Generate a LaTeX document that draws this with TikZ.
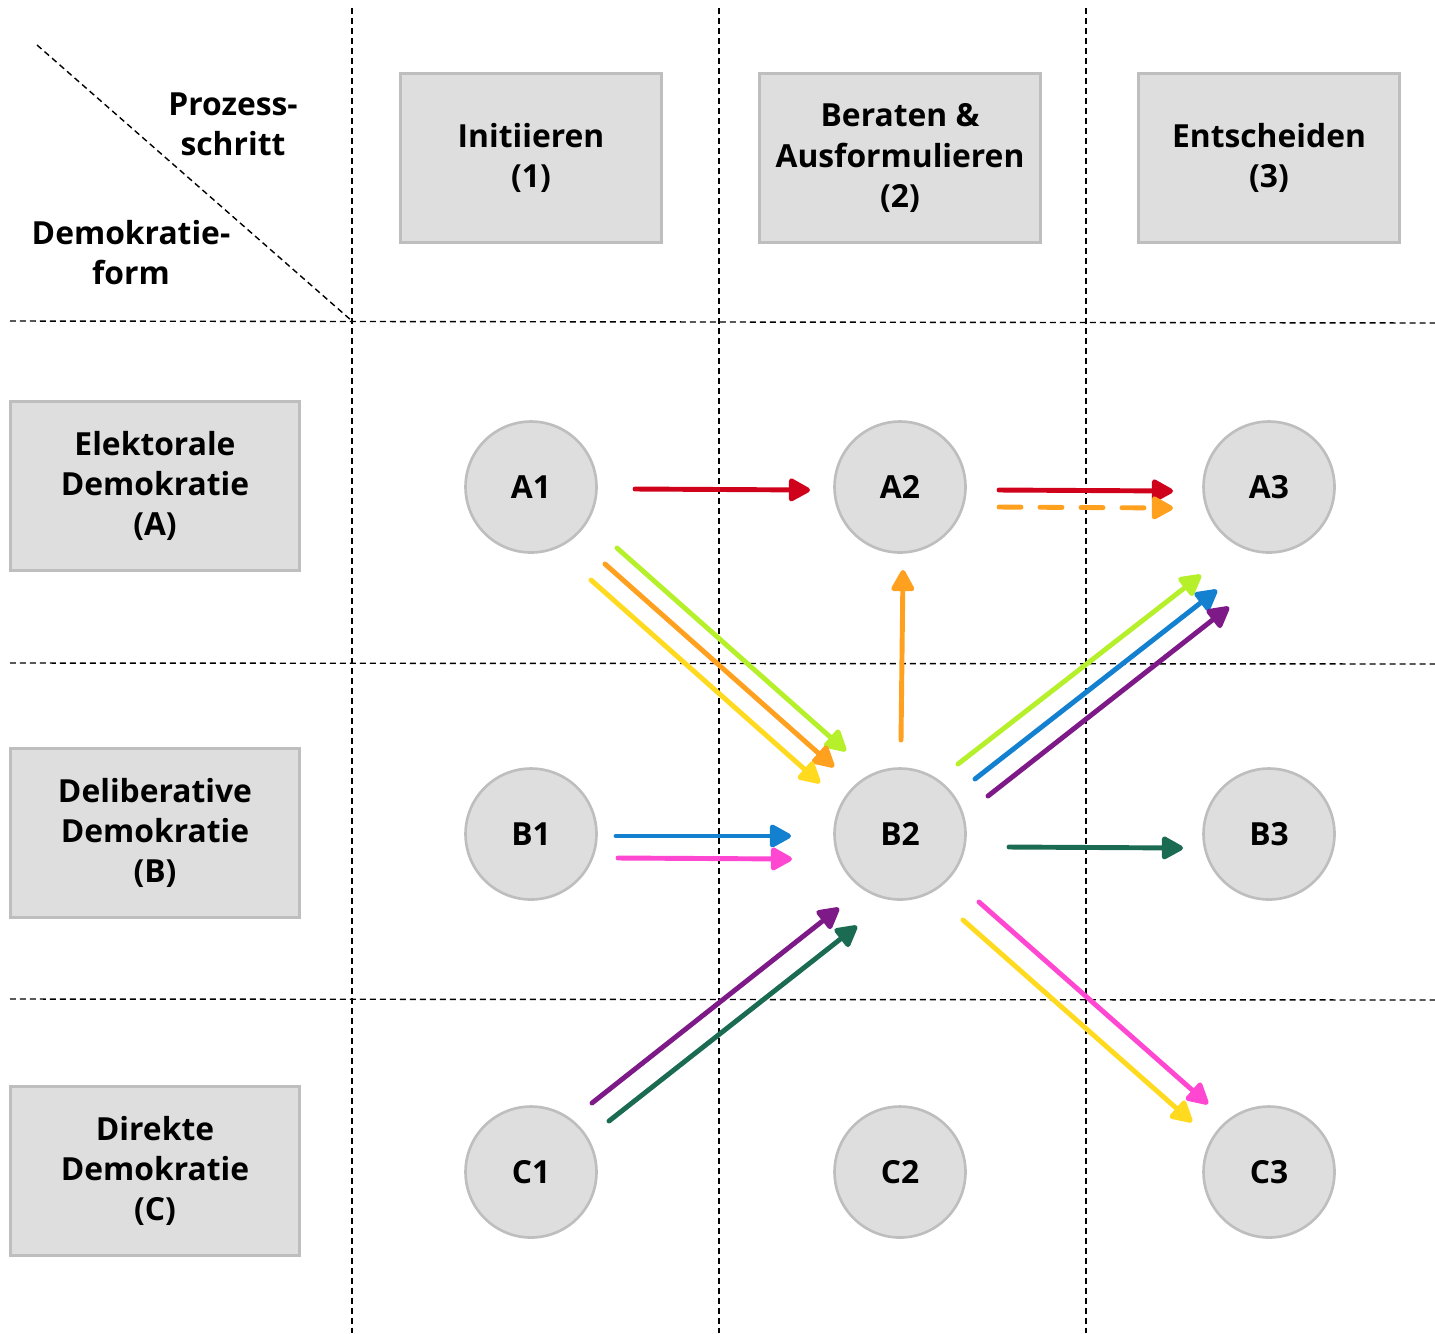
\documentclass[tikz,border=0pt]{standalone}
\usepackage{fontspec}
\setmainfont{Open Sans}
\usepackage{xcolor}
\usepackage{tikz}
\usetikzlibrary{arrows.meta, calc, positioning}
\definecolor{boxgray}{HTML}{DEDEDE}
\definecolor{randgray}{HTML}{BEBEBE}
\definecolor{rot}{HTML}{D0021B}
\definecolor{orange}{HTML}{FFA01F}
\definecolor{limette}{HTML}{B5F02B}
\definecolor{gelb}{HTML}{FFDA1F}
\definecolor{blau}{HTML}{1380D0}
\definecolor{lila}{HTML}{7E1A88}
\definecolor{pink}{HTML}{FF47D2}
\definecolor{dunkelgruen}{HTML}{1B6B52}

\begin{document}
\begin{tikzpicture}[x=0.02cm, y=-0.02cm,
  every node/.style={font=\bfseries\fontsize{18.1}{22.8}\selectfont, align=center},
  kasten/.style={draw=randgray, line width=1.7pt, fill=boxgray, minimum height=3.38cm},
  kreis/.style={circle, draw=randgray, line width=1.5pt, fill=boxgray, minimum size=2.62cm, inner sep=0pt},
  raster/.style={dash pattern=on 0.12cm off 0.08cm, line width=0.8pt},
  pfeil/.style={line width=2.8pt, line cap=round, -{Triangle[length=0.48cm, width=0.5cm, round]}}]
\useasboundingbox (0,0) rectangle (1435,1333);

%% Raster
\draw[raster] (352,8) -- (352,1333);
\draw[raster] (719,8) -- (719,1333);
\draw[raster] (1086,8) -- (1086,1333);
\draw[raster] (10,321) -- (1435,323);
\draw[raster] (10,663) -- (1435,664);
\draw[raster] (10,999) -- (1435,1000);
\draw[raster] (37,45) -- (352,321);

\node (prozess) at (233,124) {Prozess-\\schritt};
\node (demform) at (131,253) {Demokratie-\\form};

%% Spaltenkoepfe
\node[kasten, minimum width=5.22cm] (init) at (531,158) {Initiieren\\(1)};
\node[kasten, minimum width=5.62cm] (beraten) at (900,158) {Beraten \&\\Ausformulieren\\(2)};
\node[kasten, minimum width=5.22cm] (entsch) at (1269,158) {Entscheiden\\(3)};

%% Zeilenkoepfe
\node[kasten, minimum width=5.78cm] (elekt) at (155,486) {Elektorale\\Demokratie\\(A)};
\node[kasten, minimum width=5.78cm] (delib) at (155,833) {Deliberative\\Demokratie\\(B)};
\node[kasten, minimum width=5.78cm] (direkt) at (155,1171) {Direkte\\Demokratie\\(C)};

%% Kreise
\foreach \zeile/\y in {A/487, B/834, C/1172} {
  \foreach \spalte/\x in {1/531, 2/900, 3/1269} {
    \node[kreis] (\zeile\spalte) at (\x,\y) {\zeile\spalte};
  }
}

%% Pfeile
\draw[pfeil, rot] ($(A1)+(104,2)$) -- ($(A2)+(-90,3)$);
\draw[pfeil, rot] ($(A2)+(99,3)$) -- ($(A3)+(-96,4)$);
\draw[pfeil, orange, dash pattern=on 0.44cm off 0.38cm] ($(A2)+(99,20)$) -- ($(A3)+(-96,21)$);

\draw[pfeil, limette] ($(A1)+(86,61)$) -- ($(B2)+(-54,-83)$);
\draw[pfeil, orange] ($(A1)+(74,77)$) -- ($(B2)+(-66,-67)$);
\draw[pfeil, gelb] ($(A1)+(60,93)$) -- ($(B2)+(-80,-51)$);

\draw[pfeil, orange] ($(B2)+(1,-94)$) -- ($(A2)+(3,83)$);

\draw[pfeil, limette] ($(B2)+(58,-70)$) -- ($(A3)+(-68,88)$);
\draw[pfeil, blau] ($(B2)+(75,-55)$) -- ($(A3)+(-52,103)$);
\draw[pfeil, lila] ($(B2)+(88,-38)$) -- ($(A3)+(-40,120)$);

\draw[pfeil, blau] ($(B1)+(85,2)$) -- ($(B2)+(-109,2)$);
\draw[pfeil, pink] ($(B1)+(87,24)$) -- ($(B2)+(-108,25)$);
\draw[pfeil, dunkelgruen] ($(B2)+(109,13)$) -- ($(B3)+(-86,14)$);

\draw[pfeil, lila] ($(C1)+(61,-69)$) -- ($(B2)+(-61,74)$);
\draw[pfeil, dunkelgruen] ($(C1)+(78,-51)$) -- ($(B2)+(-43,92)$);

\draw[pfeil, pink] ($(B2)+(79,68)$) -- ($(C3)+(-61,-68)$);
\draw[pfeil, gelb] ($(B2)+(63,86)$) -- ($(C3)+(-77,-50)$);
\end{tikzpicture}
\end{document}
